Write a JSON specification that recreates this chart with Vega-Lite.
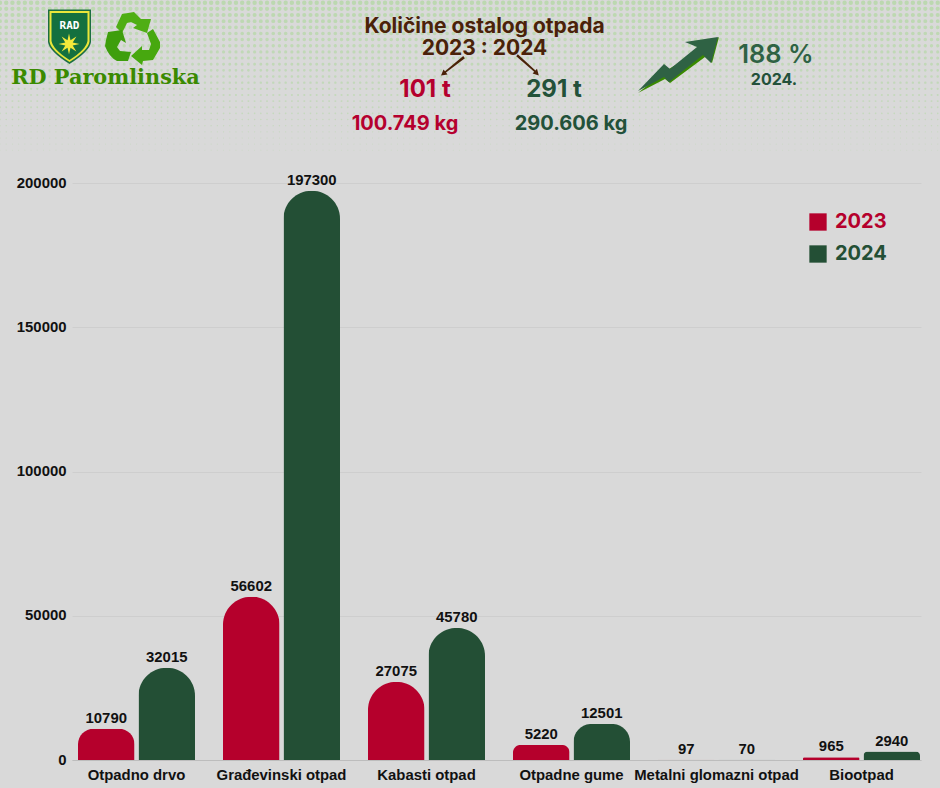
{
  "$schema": "https://vega.github.io/schema/vega-lite/v6.json",
  "width": 849,
  "height": 577,
  "autosize": "none",
  "padding": {"left": 72, "top": 183, "right": 19, "bottom": 28},
  "background": "#d9d9d9",
  "title": {
    "text": ["Količine ostalog otpada", "2023 : 2024"],
    "font": "Inter",
    "fontWeight": 700,
    "fontSize": 21,
    "lineHeight": 22,
    "color": "#4a2208",
    "anchor": "middle",
    "dx": -12,
    "offset": -58
  },
  "datasets": {
    "otpad": [
      {"vrsta": "Otpadno drvo", "godina": "2023", "kolicina": 10790},
      {"vrsta": "Otpadno drvo", "godina": "2024", "kolicina": 32015},
      {"vrsta": "Građevinski otpad", "godina": "2023", "kolicina": 56602},
      {"vrsta": "Građevinski otpad", "godina": "2024", "kolicina": 197300},
      {"vrsta": "Kabasti otpad", "godina": "2023", "kolicina": 27075},
      {"vrsta": "Kabasti otpad", "godina": "2024", "kolicina": 45780},
      {"vrsta": "Otpadne gume", "godina": "2023", "kolicina": 5220},
      {"vrsta": "Otpadne gume", "godina": "2024", "kolicina": 12501},
      {"vrsta": "Metalni glomazni otpad", "godina": "2023", "kolicina": 97},
      {"vrsta": "Metalni glomazni otpad", "godina": "2024", "kolicina": 70},
      {"vrsta": "Biootpad", "godina": "2023", "kolicina": 965},
      {"vrsta": "Biootpad", "godina": "2024", "kolicina": 2940}
    ],
    "tonaza": [
      {"godina": "2023", "t": "101 t", "kg": "100.749 kg"},
      {"godina": "2024", "t": "291 t", "kg": "290.606 kg"}
    ]
  },
  "layer": [
    {
      "data": {"values": [
        {"red": 1}, {"red": 2}, {"red": 3}, {"red": 4}, {"red": 5},
        {"red": 6}, {"red": 7}, {"red": 8}, {"red": 9}, {"red": 10},
        {"red": 11}, {"red": 12}, {"red": 13}, {"red": 14}, {"red": 15},
        {"red": 16}, {"red": 17}, {"red": 18}, {"red": 19}, {"red": 20},
        {"red": 21}, {"red": 22}, {"red": 23}, {"red": 24}, {"red": 25}
      ]},
      "mark": {"type": "rule", "strokeCap": "round", "strokeDash": [0.01, 6.2], "color": "#bcd8b0"},
      "encoding": {
        "x": {"datum": 0, "type": "quantitative", "scale": {"domain": [0, 1], "range": [-72, 868]}, "axis": null},
        "x2": {"datum": 1},
        "y": {"field": "red", "type": "quantitative", "scale": {"domain": [1, 25], "range": [-180.3, -32.7], "zero": false, "nice": false}, "axis": null},
        "strokeWidth": {"field": "red", "type": "quantitative", "scale": {"domain": [1, 25], "range": [4.4, 0.7], "zero": false, "nice": false}, "legend": null},
        "opacity": {"field": "red", "type": "quantitative", "scale": {"domain": [1, 25], "range": [1, 0.6], "zero": false, "nice": false}, "legend": null}
      }
    },
    {
      "data": {"values": [
        {"sloj": "zaglavlje", "dio": "grb rub"},
        {"sloj": "zaglavlje", "dio": "grb traka"},
        {"sloj": "zaglavlje", "dio": "grb polje"},
        {"sloj": "zaglavlje", "dio": "zvijezda"},
        {"sloj": "zaglavlje", "dio": "reciklaža gore"},
        {"sloj": "zaglavlje", "dio": "reciklaža lijevo"},
        {"sloj": "zaglavlje", "dio": "reciklaža desno"},
        {"sloj": "zaglavlje", "dio": "strelica 2023"},
        {"sloj": "zaglavlje", "dio": "strelica 2024"},
        {"sloj": "zaglavlje", "dio": "rast sjena"},
        {"sloj": "zaglavlje", "dio": "rast"}
      ]},
      "mark": {"type": "point", "filled": true, "size": 4, "opacity": 1, "strokeWidth": 0},
      "encoding": {
        "x": {"field": "sloj", "type": "nominal", "scale": {"type": "point", "domain": ["zaglavlje"], "range": [-72, -72]}, "axis": null},
        "y": {"field": "sloj", "type": "nominal", "scale": {"type": "point", "domain": ["zaglavlje"], "range": [-183, -183]}, "axis": null},
        "shape": {
          "field": "dio",
          "type": "nominal",
          "legend": null,
          "scale": {
            "domain": ["grb rub", "grb traka", "grb polje", "zvijezda", "reciklaža gore", "reciklaža lijevo", "reciklaža desno", "strelica 2023", "strelica 2024", "rast sjena", "rast"],
            "range": [
              "M48,9.5 L91,9.5 L91,42 Q90,51 69.5,64 Q49,51 48,42 Z",
              "M49.5,11 L89.5,11 L89.5,41.5 Q88.5,50 69.5,62 Q50.5,50 49.5,41.5 Z",
              "M51.5,13 L87.5,13 L87.5,41 Q86,49.5 69.5,60 Q53,49.5 51.5,41 Z",
              "M69,33.5 L70.5,40.3 L76.4,36.6 L72.7,42.5 L79.5,44 L72.7,45.5 L76.4,51.4 L70.5,47.7 L69,54.5 L67.5,47.7 L61.6,51.4 L65.3,45.5 L58.5,44 L65.3,42.5 L61.6,36.6 L67.5,40.3 Z",
              "M116,27 L122,14 L134,12 L141,19 L151,19 L147,33 L133,28 L137,25 L131,22 L127,23 L122,33 Z",
              "M108,32 L122,30 L126,43 L121,40 L117,47 L120,51 L131,52 L128,61 L117,61 Q109,57 105,46 L106,40 Z",
              "M147,33 L153,29 L160,42 L160,48 L153,60 L143,61 L142,65 L131,56 L142,46 L142,50 L149,50 L151,44 Z",
              "M463.2,56 L464.9,58.2 L446,72.4 L447.5,74.4 L441,75.5 L443.5,69.5 L445,71.2 Z",
              "M516.2,56.2 L517.8,54.3 L535.4,70.6 L537,68.8 L538.8,75.4 L532.6,73.4 L534.2,71.8 Z",
              "M719,37 L712,63 L705,57 L670,83 L665,79 L638,93 L664,72 L700,50 Z",
              "M718,37 L711,63 L703,55 L669,82 L664,77 L638,91 L664,64 L670,69 L697,47 L685,42 Z"
            ]
          }
        },
        "fill": {
          "field": "dio",
          "type": "nominal",
          "legend": null,
          "scale": {
            "domain": ["grb rub", "grb traka", "grb polje", "zvijezda", "reciklaža gore", "reciklaža lijevo", "reciklaža desno", "strelica 2023", "strelica 2024", "rast sjena", "rast"],
            "range": ["#1c6f42", "#e9e63a", "#14703f", "#f3e93a", "#4fae14", "#3e9e0c", "#47a80f", "#4a2208", "#4a2208", "#3a8a00", "#2f6244"]
          }
        }
      }
    },
    {
      "data": {"values": [{"oznaka": "RAD"}]},
      "mark": {"type": "text", "font": "DejaVu Sans Mono", "fontWeight": "bold", "fontSize": 11, "color": "#ffffff"},
      "encoding": {
        "x": {"field": "oznaka", "type": "nominal", "scale": {"type": "point", "domain": ["RAD"], "range": [-2.5, -2.5]}, "axis": null},
        "y": {"field": "oznaka", "type": "nominal", "scale": {"type": "point", "domain": ["RAD"], "range": [-157, -157]}, "axis": null},
        "text": {"field": "oznaka"}
      }
    },
    {
      "data": {"values": [{"oznaka": "RD Paromlinska"}]},
      "mark": {"type": "text", "font": "DejaVu Serif", "fontWeight": "bold", "fontSize": 20.8, "color": "#3a8a00"},
      "encoding": {
        "x": {"field": "oznaka", "type": "nominal", "scale": {"type": "point", "domain": ["RD Paromlinska"], "range": [33.5, 33.5]}, "axis": null},
        "y": {"field": "oznaka", "type": "nominal", "scale": {"type": "point", "domain": ["RD Paromlinska"], "range": [-105, -105]}, "axis": null},
        "text": {"field": "oznaka"}
      }
    },
    {
      "data": {"name": "tonaza"},
      "mark": {"type": "text", "font": "Inter", "fontWeight": 700, "fontSize": 24},
      "encoding": {
        "x": {"field": "godina", "type": "nominal", "scale": {"type": "point", "padding": 0, "domain": ["2023", "2024"], "range": [353, 482]}, "axis": null},
        "y": {"field": "t", "type": "nominal", "scale": {"type": "point", "domain": ["101 t", "291 t"], "range": [-93, -93]}, "axis": null},
        "text": {"field": "t"},
        "color": {"field": "godina", "type": "nominal", "legend": null, "scale": {"domain": ["2023", "2024"], "range": ["#b5002e", "#23513a"]}}
      }
    },
    {
      "data": {"name": "tonaza"},
      "mark": {"type": "text", "font": "Inter", "fontWeight": 700, "fontSize": 20},
      "encoding": {
        "x": {"field": "godina", "type": "nominal", "scale": {"type": "point", "padding": 0, "domain": ["2023", "2024"], "range": [333, 499]}, "axis": null},
        "y": {"field": "kg", "type": "nominal", "scale": {"type": "point", "domain": ["100.749 kg", "290.606 kg"], "range": [-59, -59]}, "axis": null},
        "text": {"field": "kg"},
        "color": {"field": "godina", "type": "nominal", "legend": null, "scale": {"domain": ["2023", "2024"], "range": ["#b5002e", "#23513a"]}}
      }
    },
    {
      "data": {"values": [{"oznaka": "188 %"}]},
      "mark": {"type": "text", "font": "Inter", "fontWeight": 600, "fontSize": 25.5, "color": "#2f6244"},
      "encoding": {
        "x": {"field": "oznaka", "type": "nominal", "scale": {"type": "point", "domain": ["188 %"], "range": [704, 704]}, "axis": null},
        "y": {"field": "oznaka", "type": "nominal", "scale": {"type": "point", "domain": ["188 %"], "range": [-128, -128]}, "axis": null},
        "text": {"field": "oznaka"}
      }
    },
    {
      "data": {"values": [{"oznaka": "2024."}]},
      "mark": {"type": "text", "font": "Inter", "fontWeight": 700, "fontSize": 16, "color": "#23513a"},
      "encoding": {
        "x": {"field": "oznaka", "type": "nominal", "scale": {"type": "point", "domain": ["2024."], "range": [702, 702]}, "axis": null},
        "y": {"field": "oznaka", "type": "nominal", "scale": {"type": "point", "domain": ["2024."], "range": [-103, -103]}, "axis": null},
        "text": {"field": "oznaka"}
      }
    },
    {
      "data": {"name": "otpad"},
      "encoding": {
        "x": {
          "field": "vrsta",
          "type": "nominal",
          "sort": null,
          "title": null,
          "scale": {"type": "band", "paddingInner": 0.193, "paddingOuter": 0.024, "align": 0.86},
          "axis": {"labelAngle": 0, "labelFont": "Liberation Sans", "labelFontWeight": "bold", "labelFontSize": 14.9, "labelColor": "#111111", "labelLimit": 300, "labelOverlap": false, "labelPadding": 7, "ticks": false, "domainColor": "#bdbdbd", "domainWidth": 1, "grid": false}
        },
        "xOffset": {"field": "godina", "type": "nominal", "scale": {"paddingInner": 0.0656, "paddingOuter": 0}},
        "y": {
          "field": "kolicina",
          "type": "quantitative",
          "title": null,
          "scale": {"domain": [0, 200000], "nice": false},
          "axis": {"values": [0, 50000, 100000, 150000, 200000], "format": "d", "labelFont": "Liberation Sans", "labelFontWeight": "bold", "labelFontSize": 14.9, "labelColor": "#111111", "labelPadding": 6, "ticks": false, "domain": false, "grid": true, "gridColor": "#cecece", "gridWidth": 1}
        }
      },
      "layer": [
        {
          "mark": {"type": "bar", "cornerRadiusTopLeft": 28, "cornerRadiusTopRight": 28},
          "encoding": {
            "color": {
              "field": "godina",
              "type": "nominal",
              "title": null,
              "scale": {"domain": ["2023", "2024"], "range": ["#b5002c", "#234f35"]},
              "legend": {
                "orient": "none",
                "legendX": 736,
                "legendY": 29,
                "symbolType": "square",
                "symbolSize": 300,
                "symbolStrokeWidth": 0,
                "labelFont": "Inter",
                "labelFontWeight": 700,
                "labelFontSize": 20,
                "labelOffset": 7,
                "rowPadding": 12,
                "padding": 0,
                "encode": {
                  "symbols": {"update": {"fill": {"signal": "datum.value == '2024' ? '#33654a' : '#b5002c'"}, "opacity": {"value": 1}}},
                  "labels": {"update": {"fill": {"signal": "datum.value == '2024' ? '#234f35' : '#b5002c'"}}}
                }
              }
            }
          }
        },
        {
          "mark": {"type": "text", "baseline": "bottom", "dy": -3, "font": "Liberation Sans", "fontWeight": "bold", "fontSize": 14.9, "color": "#111111"},
          "encoding": {
            "text": {"field": "kolicina", "type": "quantitative", "format": "d"}
          }
        }
      ]
    }
  ],
  "resolve": {
    "scale": {"x": "independent", "y": "independent", "color": "independent", "fill": "independent", "shape": "independent", "strokeWidth": "independent", "opacity": "independent"},
    "axis": {"x": "independent", "y": "independent"}
  },
  "config": {"view": {"stroke": null}}
}
